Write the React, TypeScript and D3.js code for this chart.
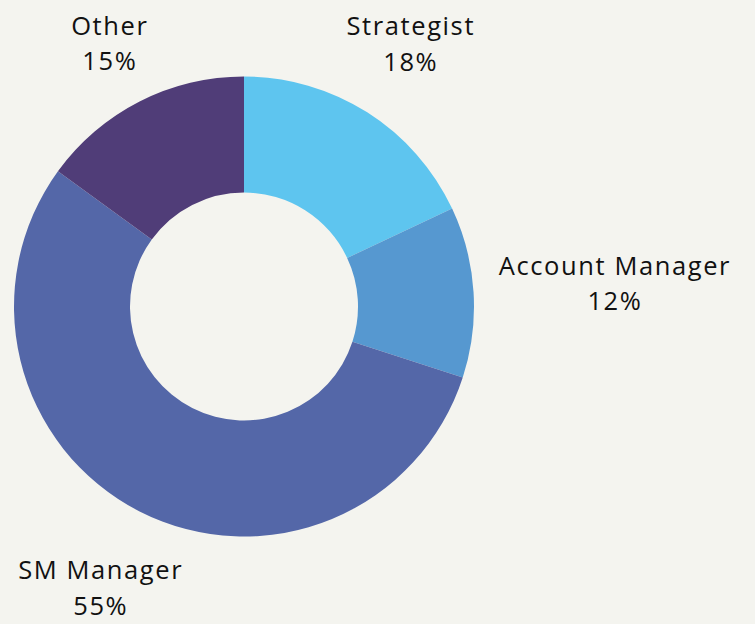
import React from "react";
import * as d3 from "d3";

const categories = ["Strategist", "Account Manager", "SM Manager", "Other"];
const values = [18, 12, 55, 15];
const colors = ["#5ec5ef", "#5698d0", "#5467a8", "#503d78"];

const W = 755;
const H = 624;
const FONT = "'Open Sans', sans-serif";
const FS = 25.5;
const LS = 1.6;
const LINE = 35.5;
const CAP = 18.5;

function measure(text: string): number {
  const c = document.createElement("canvas").getContext("2d");
  if (!c) return text.length * FS * 0.6;
  c.font = `${FS}px 'Open Sans'`;
  return c.measureText(text).width + LS * text.length;
}

export default function App() {
  const cx = 244;
  const cy = 306.5;
  const outerR = 230;
  const innerR = 114;
  const labelR = 254;
  const total = d3.sum(values);
  const pie = d3
    .pie<number>()
    .sort(null)
    .value((d) => d)(values);
  const arc = d3.arc<d3.PieArcDatum<number>>().innerRadius(innerR).outerRadius(outerR);

  return (
    <div style={{ position: "fixed", left: 0, top: 0, width: W, height: H, background: "#f4f4ef" }}>
      <svg width={W} height={H} style={{ display: "block" }}>
        <rect width={W} height={H} fill="#f4f4ef" />
        <g transform={`translate(${cx},${cy})`}>
          {pie.map((p, i) => (
            <path key={i} d={arc(p) || ""} fill={colors[i]} />
          ))}
        </g>
        {pie.map((p, i) => {
          const mid = (p.startAngle + p.endAngle) / 2;
          const s = Math.sin(mid);
          const c = Math.cos(mid);
          const pct = `${Math.round((values[i] / total) * 100)}%`;
          const w = Math.max(measure(categories[i]), measure(pct));
          const h = CAP + LINE;
          // distance from donut centre to label block centre: ring gap + box support along the ray
          const support = (Math.abs(s) * w) / 2 + (Math.abs(c) * h) / 2;
          const d = labelR + support;
          const bx = cx + d * s;
          const by = cy - d * c;
          const b1 = by - h / 2 + CAP;
          return (
            <text
              key={i}
              x={bx}
              y={b1}
              textAnchor="middle"
              fontFamily={FONT}
              fontSize={FS}
              letterSpacing={LS}
              fill="#111"
            >
              <tspan x={bx} y={b1}>
                {categories[i]}
              </tspan>
              <tspan x={bx} y={b1 + LINE}>
                {pct}
              </tspan>
            </text>
          );
        })}
      </svg>
    </div>
  );
}
